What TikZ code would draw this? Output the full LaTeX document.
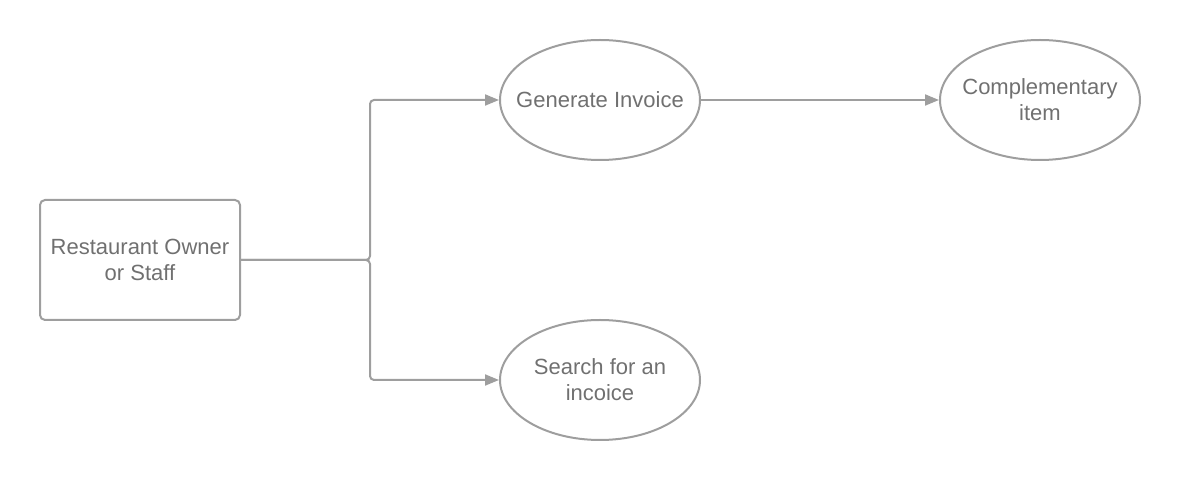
\documentclass[tikz,border=0pt]{standalone}
\usepackage{fontspec}
\setmainfont{Liberation Sans}
\definecolor{lucidline}{RGB}{158, 158, 158}
\definecolor{lucidtext}{RGB}{112, 112, 112}
\usetikzlibrary{arrows.meta, shapes.geometric, positioning}

\begin{document}
\begin{tikzpicture}[x=0.5pt,y=-0.5pt,
		actor/.style={draw=lucidline,line width=1pt,rounded corners=2.5pt,minimum width=100pt,minimum height=60pt,inner sep=0pt,align=center,text=lucidtext,font=\fontsize{11}{13}\selectfont},
		usecase/.style={ellipse,draw=lucidline,line width=1pt,minimum width=100pt,minimum height=60pt,inner xsep=-15pt,inner ysep=0pt,align=center,text=lucidtext,font=\fontsize{11}{13}\selectfont},
		flow/.style={draw=lucidline,line width=1pt,rounded corners=2pt,-{Triangle[length=7pt,width=5.5pt]}}]
				\useasboundingbox (0,0) rectangle (1180,480);
				
				\node[actor]   (owner)   at (140,260)  {Restaurant Owner\\or Staff};
				
				\node[usecase] (invoice) at (600,100)  {Generate Invoice};
				\node[usecase] (search)  at (600,380)  {Search for an\\incoice};
				\node[usecase] (compl)   at (1040,100) {Complementary\\item};
				
				\coordinate (fork) at (370,260);
				
				\draw[flow]    (owner.east) -- (fork) |- (invoice.west);
				\draw[flow]    (owner.east) -- (fork) |- (search.west);
				\draw[flow]    (invoice.east) -- (compl.west);
			\end{tikzpicture}
\end{document}
